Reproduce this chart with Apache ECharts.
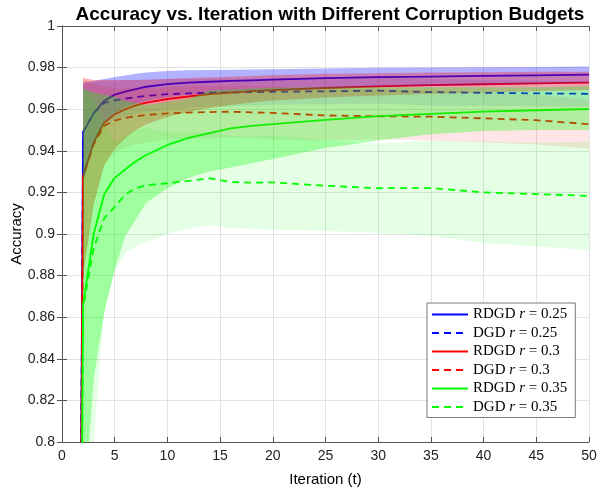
<!DOCTYPE html>
<html>
<head>
<meta charset="utf-8">
<script src="https://cdn.jsdelivr.net/npm/echarts@6/dist/echarts.min.js"></script>
<style>
  html, body { margin: 0; padding: 0; background: #fff; }
  #main { width: 598px; height: 494px; }
</style>
</head>
<body>
<div id="main"></div>
<script>
// iteration points (t = 1 sits far below the axis)
var iters = [1, 2, 3, 4, 5, 6, 7, 8, 10, 12, 14, 16, 18, 20, 25, 30, 35, 40, 45, 50];
var bandIters = iters.slice(1);

var names = ['RDGD r = 0.25', 'DGD r = 0.25', 'RDGD r = 0.3', 'DGD r = 0.3', 'RDGD r = 0.35', 'DGD r = 0.35'];

// mean accuracy
var rdgd25 = [0.10, 0.949, 0.958, 0.964, 0.967, 0.9685, 0.9697, 0.9708, 0.9721, 0.9728, 0.9732, 0.9736, 0.9739, 0.9742, 0.9749, 0.9754, 0.9757, 0.976, 0.9763, 0.9766];
var dgd25 = [0.10, 0.949, 0.958, 0.963, 0.9643, 0.9651, 0.9658, 0.9664, 0.9672, 0.9676, 0.9679, 0.968, 0.9682, 0.9684, 0.9686, 0.9689, 0.9682, 0.9679, 0.9676, 0.9674];
var rdgd30 = [0.10, 0.9276, 0.944, 0.9535, 0.9575, 0.960, 0.9618, 0.9632, 0.9649, 0.9661, 0.9672, 0.968, 0.9687, 0.9692, 0.9702, 0.971, 0.9716, 0.972, 0.9724, 0.9728];
var dgd30 = [0.10, 0.9276, 0.943, 0.952, 0.9545, 0.9558, 0.9566, 0.9572, 0.958, 0.9584, 0.9586, 0.9588, 0.9585, 0.9582, 0.957, 0.9566, 0.9564, 0.9556, 0.9547, 0.9528];
var rdgd35 = [0.10, 0.866, 0.900, 0.919, 0.927, 0.931, 0.935, 0.938, 0.9428, 0.9462, 0.9485, 0.9508, 0.952, 0.9528, 0.9549, 0.9567, 0.9578, 0.9588, 0.9595, 0.9601];
var dgd35 = [0.10, 0.865, 0.893, 0.9075, 0.913, 0.919, 0.922, 0.9235, 0.9244, 0.9255, 0.9268, 0.925, 0.9247, 0.9248, 0.9232, 0.922, 0.9221, 0.920, 0.9192, 0.9183];

// shaded spread, from t = 2
var rdgd25Hi = [0.973, 0.9735, 0.9745, 0.9755, 0.9762, 0.977, 0.9776, 0.9784, 0.9787, 0.9789, 0.979, 0.9791, 0.9792, 0.9796, 0.9799, 0.9801, 0.9802, 0.9803, 0.9805];
var rdgd25Lo = [0.925, 0.943, 0.954, 0.958, 0.961, 0.9625, 0.964, 0.9658, 0.9668, 0.9674, 0.968, 0.9685, 0.969, 0.970, 0.9709, 0.9713, 0.9718, 0.9722, 0.9727];
var dgd25Hi = [0.972, 0.973, 0.9735, 0.9737, 0.974, 0.974, 0.9742, 0.9745, 0.9745, 0.9746, 0.9746, 0.9747, 0.9747, 0.9748, 0.975, 0.9746, 0.9742, 0.9738, 0.9736];
var dgd25Lo = [0.926, 0.943, 0.9525, 0.9549, 0.9562, 0.9576, 0.9586, 0.9599, 0.9607, 0.9612, 0.9614, 0.9617, 0.9621, 0.9624, 0.9628, 0.9618, 0.9616, 0.9614, 0.9612];
var rdgd30Hi = [0.975, 0.974, 0.974, 0.974, 0.974, 0.974, 0.9742, 0.9745, 0.975, 0.9753, 0.9756, 0.976, 0.9763, 0.977, 0.9773, 0.9776, 0.9778, 0.978, 0.978];
var rdgd30Lo = [0.88, 0.914, 0.933, 0.941, 0.946, 0.950, 0.9528, 0.9563, 0.9587, 0.9606, 0.962, 0.9632, 0.9642, 0.9656, 0.9666, 0.9674, 0.968, 0.9686, 0.9692];
var dgd30Hi = [0.975, 0.972, 0.971, 0.970, 0.970, 0.970, 0.970, 0.9705, 0.971, 0.9712, 0.9713, 0.9711, 0.971, 0.970, 0.9695, 0.969, 0.968, 0.967, 0.9645];
var dgd30Lo = [0.88, 0.914, 0.933, 0.939, 0.9416, 0.943, 0.944, 0.9455, 0.9458, 0.946, 0.9463, 0.946, 0.9454, 0.945, 0.9455, 0.945, 0.944, 0.943, 0.941];
var rdgd35Hi = [0.97, 0.968, 0.967, 0.966, 0.964, 0.963, 0.962, 0.9635, 0.965, 0.969, 0.9695, 0.970, 0.9703, 0.9705, 0.9705, 0.9705, 0.9705, 0.9705, 0.971];
var rdgd35Lo = [0.76, 0.83, 0.862, 0.883, 0.899, 0.907, 0.915, 0.922, 0.927, 0.930, 0.932, 0.934, 0.936, 0.9413, 0.945, 0.948, 0.9495, 0.950, 0.950];
var dgd35Hi = [0.97, 0.965, 0.953, 0.944, 0.947, 0.950, 0.951, 0.9488, 0.9485, 0.9493, 0.9473, 0.9469, 0.9476, 0.945, 0.9435, 0.945, 0.9443, 0.944, 0.9443];
var dgd35Lo = [0.72, 0.80, 0.862, 0.882, 0.891, 0.894, 0.896, 0.900, 0.9025, 0.9043, 0.9027, 0.9025, 0.902, 0.9015, 0.9005, 0.899, 0.8957, 0.894, 0.8923];

var chart = echarts.init(document.getElementById('main'));

function pairs(xs, ys) {
  return xs.map(function (x, i) { return [x, ys[i]]; });
}

function lineSeries(name, ys, color, dashed) {
  return {
    name: name,
    type: 'line',
    data: pairs(iters, ys),
    symbol: 'none',
    z: 2,
    lineStyle: { color: color, width: 1.8, type: dashed ? [7, 5] : 'solid' },
    itemStyle: { color: color }
  };
}

// filled band between lo and hi, clipped to the plot box
function bandSeries(id, lo, hi, color) {
  return {
    name: id,
    type: 'custom',
    silent: true,
    z: 3,
    data: [[bandIters[0], hi[0]]],
    renderItem: function (params, api) {
      var pts = [];
      for (var i = 0; i < bandIters.length; i++) pts.push(api.coord([bandIters[i], hi[i]]));
      for (var j = bandIters.length - 1; j >= 0; j--) pts.push(api.coord([bandIters[j], lo[j]]));
      var cs = params.coordSys;
      return {
        type: 'polygon',
        shape: { points: pts },
        style: { fill: color },
        clipPath: { type: 'rect', shape: { x: cs.x, y: cs.y, width: cs.width, height: cs.height } }
      };
    }
  };
}

var axisCol = '#555';
var gridCol = '#e3e3e3';
var sans = 'Liberation Sans';
var serif = 'Liberation Serif';

var option = {
  backgroundColor: '#fff',
  animation: false,
  title: {
    text: 'Accuracy vs. Iteration with Different Corruption Budgets',
    left: 325,
    top: 0,
    textAlign: 'center',
    textStyle: { fontFamily: sans, fontSize: 19, fontWeight: 'bold', color: '#000' }
  },
  grid: { left: 62, right: 9, top: 26, bottom: 52, outerBoundsMode: 'none', containLabel: false },
  legend: {
    data: names,
    orient: 'vertical',
    left: 427,
    top: 303,
    padding: [4, 8, 3, 4],
    itemGap: 3.5,
    itemWidth: 36,
    itemHeight: 14,
    backgroundColor: '#fff',
    borderColor: '#7a7a7a',
    borderWidth: 1,
    borderRadius: 0,
    itemStyle: { opacity: 0 },
    formatter: function (name) {
      var p = name.split(' r = ');
      return '{a|' + p[0] + ' }{i|r}{a| = ' + p[1] + '}';
    },
    textStyle: {
      color: '#000',
      fontSize: 15,
      fontFamily: serif,
      rich: {
        a: { fontSize: 15, fontFamily: serif, color: '#000' },
        i: { fontSize: 15, fontFamily: serif, fontStyle: 'italic', color: '#000' }
      }
    }
  },
  xAxis: [{
    type: 'value',
    min: 0,
    max: 50,
    interval: 5,
    name: 'Iteration (t)',
    nameLocation: 'middle',
    nameGap: 30,
    nameTextStyle: { fontFamily: sans, fontSize: 15, color: '#000' },
    axisLine: { lineStyle: { color: axisCol } },
    axisTick: { inside: true, length: 5, lineStyle: { color: axisCol } },
    axisLabel: { fontFamily: sans, fontSize: 14, color: '#222', margin: 7 },
    splitLine: { show: true, lineStyle: { color: gridCol } }
  }, {
    type: 'value',
    position: 'top',
    min: 0,
    max: 50,
    interval: 5,
    axisLine: { show: true, lineStyle: { color: axisCol } },
    axisTick: { inside: true, length: 5, lineStyle: { color: axisCol } },
    axisLabel: { show: false },
    splitLine: { show: false }
  }],
  yAxis: [{
    type: 'value',
    min: 0.8,
    max: 1,
    interval: 0.02,
    name: 'Accuracy',
    nameLocation: 'middle',
    nameGap: 38,
    nameMoveOverlap: false,
    nameTextStyle: { fontFamily: sans, fontSize: 15, color: '#000' },
    axisLine: { show: true, lineStyle: { color: axisCol } },
    axisTick: { show: true, inside: true, length: 5, lineStyle: { color: axisCol } },
    axisLabel: { fontFamily: sans, fontSize: 14, color: '#222', margin: 7 },
    splitLine: { show: true, lineStyle: { color: gridCol } }
  }, {
    type: 'value',
    position: 'right',
    min: 0.8,
    max: 1,
    interval: 0.02,
    axisLine: { show: true, lineStyle: { color: axisCol } },
    axisTick: { show: true, inside: true, length: 5, lineStyle: { color: axisCol } },
    axisLabel: { show: false },
    splitLine: { show: false }
  }],
  series: [
    lineSeries(names[0], rdgd25, '#0000ff', false),
    lineSeries(names[1], dgd25, '#0000ff', true),
    lineSeries(names[2], rdgd30, '#ff0000', false),
    lineSeries(names[3], dgd30, '#ff0000', true),
    lineSeries(names[4], rdgd35, '#00ff00', false),
    lineSeries(names[5], dgd35, '#00ff00', true),
    bandSeries('band1', rdgd25Lo, rdgd25Hi, 'rgba(0,0,255,0.3)'),
    bandSeries('band2', dgd25Lo, dgd25Hi, 'rgba(0,0,255,0.1)'),
    bandSeries('band3', rdgd30Lo, rdgd30Hi, 'rgba(255,0,0,0.3)'),
    bandSeries('band4', dgd30Lo, dgd30Hi, 'rgba(255,0,0,0.1)'),
    bandSeries('band5', rdgd35Lo, rdgd35Hi, 'rgba(0,255,0,0.3)'),
    bandSeries('band6', dgd35Lo, dgd35Hi, 'rgba(0,255,0,0.1)')
  ]
};

chart.setOption(option);
</script>
</body>
</html>
